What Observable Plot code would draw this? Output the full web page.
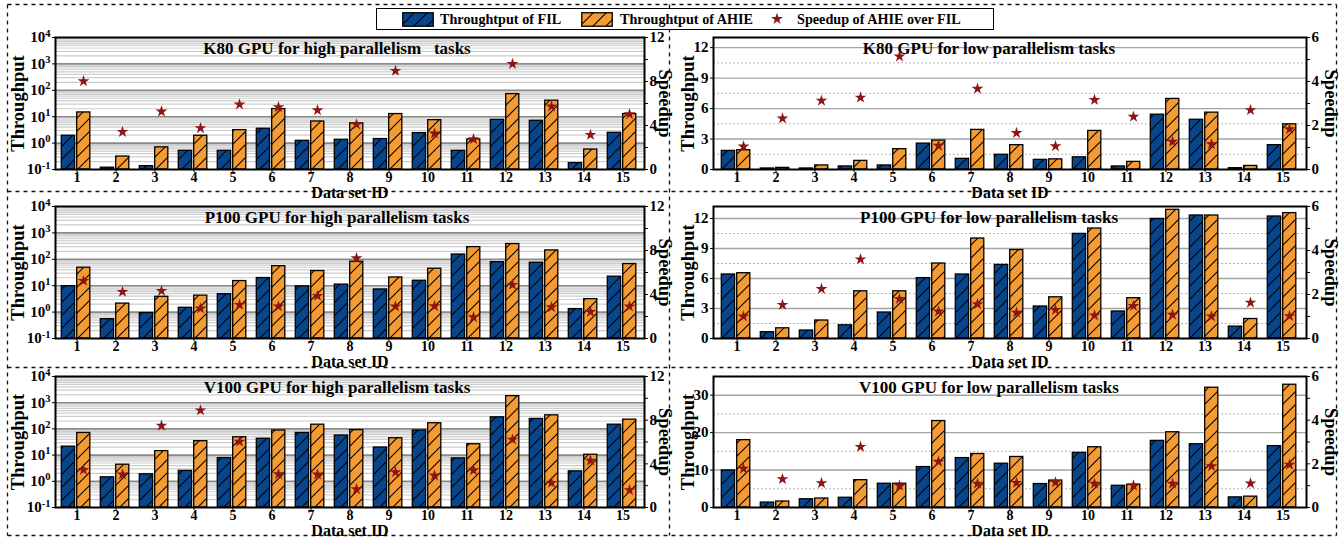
<!DOCTYPE html>
<html>
<head>
<meta charset="utf-8">
<script src="https://cdn.jsdelivr.net/npm/d3@7"></script>
<script src="https://cdn.jsdelivr.net/npm/@observablehq/plot@0.6"></script>
<style>
  html, body { margin: 0; padding: 0; background: #fff; overflow: hidden; }
  #root { position: relative; width: 1342px; height: 539px; overflow: hidden;
          font-family: "Liberation Serif", "Times New Roman", serif; font-weight: bold; color: #000; }
  .layer { position: absolute; }
  svg text { white-space: pre; }
  #legend { position: absolute; left: 376px; top: 8px; width: 616px; height: 20px;
            border: 1.3px solid #000; background: #fff; font-size: 14.2px; }
  #legend .it { position: absolute; top: 0; line-height: 20px; white-space: nowrap; }
  #legend svg { position: absolute; }
</style>
</head>
<body>
<div id="root"></div>
<script>
// ---------------- data ----------------
const datasetIds = [1, 2, 3, 4, 5, 6, 7, 8, 9, 10, 11, 12, 13, 14, 15];

const seriesNames = ["Throughtput of FIL", "Throughtput of AHIE", "Speedup of AHIE over FIL"];

// K80 GPU, high parallelism (log scale throughput)
const k80HighFil     = [1.9, 0.117, 0.134, 0.51, 0.51, 3.5, 1.22, 1.34, 1.42, 2.4, 0.51, 7.6, 7.0, 0.175, 2.46];
const k80HighAhie    = [14.5, 0.31, 0.69, 1.9, 3.1, 19.5, 6.6, 5.6, 12.6, 7.4, 1.38, 72, 40.5, 0.57, 12.6];
const k80HighSpeedup = [8.03, 3.42, 5.27, 3.76, 5.91, 5.67, 5.39, 4.09, 8.97, 3.27, 2.76, 9.6, 5.73, 3.15, 5.03];

// P100 GPU, high parallelism
const p100HighFil     = [9.6, 0.54, 0.92, 1.46, 4.8, 19.5, 9.4, 11, 7.2, 15.4, 152, 78, 74, 1.3, 22];
const p100HighAhie    = [48, 2.1, 3.8, 4.2, 15, 55, 36, 81, 20.5, 44, 290, 380, 217, 3.1, 66];
const p100HighSpeedup = [5.24, 4.24, 4.33, 2.73, 3.06, 2.91, 3.88, 7.3, 2.91, 2.94, 1.94, 4.88, 2.85, 2.42, 2.91];

// V100 GPU, high parallelism
const v100HighFil     = [21, 1.42, 1.85, 2.5, 7.7, 42, 70, 56, 19.5, 87, 7.5, 277, 240, 2.4, 145];
const v100HighAhie    = [70, 4.3, 14.2, 34, 48, 87, 145, 90, 44, 165, 26, 1780, 330, 10.3, 225];
const v100HighSpeedup = [3.44, 3.02, 7.5, 8.9, 6.04, 3.05, 3.02, 1.68, 3.23, 2.93, 3.41, 6.22, 2.26, 4.3, 1.59];

// K80 GPU, low parallelism
const k80LowFil     = [1.83, 0.1, 0.1, 0.3, 0.4, 2.55, 1.05, 1.45, 0.95, 1.2, 0.3, 5.4, 4.9, 0.13, 2.4];
const k80LowAhie    = [1.9, 0.16, 0.4, 0.85, 2.0, 2.85, 3.9, 2.4, 1.0, 3.8, 0.75, 6.95, 5.6, 0.35, 4.45];
const k80LowSpeedup = [1.05, 2.32, 3.13, 3.27, 5.14, 1.08, 3.67, 1.66, 1.06, 3.16, 2.4, 1.26, 1.15, 2.7, 1.83];

// P100 GPU, low parallelism
const p100LowFil     = [6.4, 0.63, 0.8, 1.32, 2.6, 6.04, 6.4, 7.36, 3.2, 10.46, 2.7, 11.95, 12.3, 1.19, 12.2];
const p100LowAhie    = [6.53, 1.02, 1.8, 4.72, 4.72, 7.5, 10.0, 8.85, 4.12, 11.0, 4.03, 12.87, 12.3, 1.95, 12.54];
const p100LowSpeedup = [1.0, 1.53, 2.25, 3.6, 1.8, 1.23, 1.56, 1.18, 1.3, 1.05, 1.48, 1.08, 1.0, 1.63, 1.02];

// V100 GPU, low parallelism
const v100LowFil     = [9.9, 1.32, 2.2, 2.6, 6.35, 10.8, 13.2, 11.7, 6.27, 14.6, 5.8, 17.8, 16.9, 2.7, 16.4];
const v100LowAhie    = [18.0, 1.6, 2.4, 7.3, 6.35, 23.1, 14.3, 13.5, 7.2, 16.1, 6.1, 20.1, 32.0, 2.9, 32.8];
const v100LowSpeedup = [1.78, 1.3, 1.12, 2.78, 1.0, 2.1, 1.09, 1.13, 1.15, 1.09, 1.01, 1.09, 1.89, 1.1, 1.96];

// tick values
const logTicks        = [0.1, 1, 10, 100, 1000, 10000];
const lowTicksSmall   = [0, 3, 6, 9, 12];
const lowTicksV100    = [0, 10, 20, 30];
const speedTicksHigh  = [0, 2, 4, 6, 8, 10, 12];
const speedTicksLow   = [0, 1, 2, 3, 4, 5, 6];

const titles = [
  "K80 GPU for high parallelism   tasks",
  "K80 GPU for low parallelism tasks",
  "P100 GPU for high parallelism tasks",
  "P100 GPU for low parallelism tasks",
  "V100 GPU for high parallelism tasks",
  "V100 GPU for low parallelism tasks"
];

// ---------------- styling ----------------
const FONT = '"Liberation Serif", "Times New Roman", serif';
const BLUE = "#07458c";
const ORANGE = "#f49b33";
const STAR = "#8e1515";

const root = document.getElementById("root");

// patterns
const defs = d3.select(root).append("svg")
  .attr("width", 0).attr("height", 0)
  .style("position", "absolute").style("left", 0).style("top", 0);
function hatch(id, color) {
  const p = defs.append("pattern").attr("id", id)
    .attr("patternUnits", "userSpaceOnUse").attr("width", 13).attr("height", 13);
  p.append("rect").attr("width", 13).attr("height", 13).attr("fill", color);
  p.append("path").attr("d", "M0,13 L13,0 M-3,3 L3,-3 M10,16 L16,10")
    .attr("stroke", "#000").attr("stroke-width", 1.1);
}
hatch("hFIL", BLUE);
hatch("hAHIE", ORANGE);

// dashed layout frame
const frame = d3.select(root).append("svg")
  .attr("class", "layer").attr("width", 1342).attr("height", 539)
  .style("left", 0).style("top", 0);
const dashLines = [
  [7.5, 4.5, 1336.5, 4.5], [7.5, 535.5, 1336.5, 535.5],
  [7.5, 4.5, 7.5, 535.5], [1336.5, 4.5, 1336.5, 535.5],
  [7.5, 191.5, 1336.5, 191.5], [7.5, 367.5, 1336.5, 367.5],
  [669.5, 4.5, 669.5, 535.5]
];
frame.selectAll("line").data(dashLines).join("line")
  .attr("x1", d => d[0]).attr("y1", d => d[1]).attr("x2", d => d[2]).attr("y2", d => d[3])
  .attr("stroke", "#111").attr("stroke-width", 1.3).attr("stroke-dasharray", "4,4");

function supFix(svg) {
  d3.select(svg).selectAll('g[aria-label="y-axis tick label"] text').each(function () {
    const m = /^10\^(-?\d+)$/.exec(this.textContent);
    if (m) {
      this.textContent = "10";
      d3.select(this).append("tspan").attr("dy", "-0.55em").attr("font-size", "10.5px").text(m[1]);
    }
  });
}

function makePanel(cfg) {
  const rows = datasetIds.map((id, i) => ({ id, fil: cfg.fil[i], ahie: cfg.ahie[i], speed: cfg.speed[i] }));
  const base = cfg.log ? 0.1 : 0;
  const margins = { width: cfg.width, height: cfg.height, marginTop: cfg.mt, marginBottom: cfg.mb,
                    marginLeft: cfg.ml, marginRight: cfg.mr };
  const style = { background: "none", fontFamily: FONT, fontWeight: "bold", fontSize: "15px", color: "#000", overflow: "visible" };

  let yScale, minorGrid, majorGrid, yTickFormat, minorStyle, majorStyle;
  if (cfg.log) {
    yScale = { type: "log", domain: [0.1, 10000] };
    minorGrid = [];
    for (let e = -1; e < 4; e++) for (let k = 2; k <= 9; k++) minorGrid.push(k * Math.pow(10, e));
    majorGrid = logTicks.slice(1, -1);
    yTickFormat = d => "10^" + Math.round(Math.log10(d));
    minorStyle = { stroke: "#cdcdcd", strokeWidth: 1.2 };
    majorStyle = { stroke: "#8a8a8a", strokeWidth: 1.6 };
  } else {
    yScale = { domain: cfg.yDomain };
    const t = cfg.yTicks;
    const step = t[1] - t[0];
    majorGrid = t.slice(1);
    minorGrid = t.map(v => v + step / 2).filter(v => v < cfg.yDomain[1]);
    yTickFormat = d => String(d);
    minorStyle = { stroke: "#b5b5b5", strokeWidth: 1, strokeDasharray: "2,2" };
    majorStyle = { stroke: "#a3a3a3", strokeWidth: 1.4 };
  }

  const wrap = d3.select(root).append("div").attr("class", "layer")
    .style("left", cfg.left + "px").style("top", cfg.top + "px")
    .style("width", cfg.width + "px").style("height", cfg.height + "px");

  const barsPlot = Plot.plot({
    ...margins, style,
    x: { type: "band", domain: datasetIds, padding: 0 },
    y: yScale,
    marks: [
      Plot.ruleY(minorGrid, minorStyle),
      Plot.ruleY(majorGrid, majorStyle),
      Plot.barY(rows, { x: "id", y1: () => base, y2: "fil", fill: "url(#hFIL)", stroke: "#000", strokeWidth: 1.3,
                        insetLeft: 4.3, insetRight: 21.4 }),
      Plot.barY(rows, { x: "id", y1: () => base, y2: "ahie", fill: "url(#hAHIE)", stroke: "#000", strokeWidth: 1.3,
                        insetLeft: 19.7, insetRight: 6.2 }),
      Plot.frame({ stroke: "#000", strokeWidth: 2 }),
      Plot.axisY({ ticks: cfg.log ? logTicks : cfg.yTicks, tickFormat: yTickFormat, tickSize: 3, tickPadding: 2,
                   label: null, fontSize: 15 }),
      Plot.axisX({ tickSize: 3, tickPadding: 0, label: null, fontSize: 14 }),
      Plot.text([cfg.title], { text: d => d, frameAnchor: "top", lineAnchor: "middle", textAnchor: "middle",
                               dy: 11, dx: cfg.titleDx, fontSize: 17, fontWeight: "bold" }),
      Plot.text(["Throughput"], { text: d => d, frameAnchor: "left", lineAnchor: "middle", textAnchor: "middle",
                                 dx: cfg.ylabDx, rotate: -90, fontSize: 18.5, fontWeight: "bold" }),
      Plot.text(["Data set ID"], { text: d => d, frameAnchor: "bottom", lineAnchor: "middle", textAnchor: "middle",
                                  dy: 23, fontSize: 16, fontWeight: "bold" })
    ]
  });
  barsPlot.style.position = "absolute"; barsPlot.style.left = "0px"; barsPlot.style.top = "0px";
  supFix(barsPlot);
  wrap.node().appendChild(barsPlot);

  const sTicks = cfg.log ? speedTicksHigh : speedTicksLow;
  const labelEvery = cfg.log ? 4 : 2;
  const starPlot = Plot.plot({
    ...margins, style,
    x: { type: "band", domain: datasetIds, padding: 0, axis: null },
    y: { domain: cfg.log ? [0, 12] : [0, 6] },
    marks: [
      Plot.dot(rows, { x: "id", y: "speed", symbol: "star", fill: STAR, r: 3.7, dx: 6.5 }),
      Plot.axisY({ anchor: "right", ticks: sTicks, tickFormat: d => (d % labelEvery === 0 ? String(d) : ""),
                   tickSize: 3, tickPadding: 2, label: null, fontSize: 15 }),
      Plot.text(["Speedup"], { text: d => d, frameAnchor: "right", lineAnchor: "middle", textAnchor: "middle",
                              dx: cfg.slabDx, rotate: 90, fontSize: 18.5, fontWeight: "bold" })
    ]
  });
  starPlot.style.position = "absolute"; starPlot.style.left = "0px"; starPlot.style.top = "0px";
  wrap.node().appendChild(starPlot);
}

const leftCol = { left: 0, width: 670, ml: 55, mr: 26, titleDx: -13, ylabDx: -37, slabDx: 20 };
const rightCol = { left: 670, width: 672, ml: 43, mr: 36, titleDx: -21, ylabDx: -25, slabDx: 24 };
const row1 = { top: 0, height: 195, mt: 37, mb: 26 };
const row2 = { top: 195, height: 172, mt: 11, mb: 29 };
const row3 = { top: 367, height: 172, mt: 9, mb: 32 };

makePanel({ ...leftCol, ...row1, log: true, title: titles[0], fil: k80HighFil, ahie: k80HighAhie, speed: k80HighSpeedup });
makePanel({ ...rightCol, ...row1, log: false, yDomain: [0, 13], yTicks: lowTicksSmall, title: titles[1],
            fil: k80LowFil, ahie: k80LowAhie, speed: k80LowSpeedup });
makePanel({ ...leftCol, ...row2, log: true, title: titles[2], fil: p100HighFil, ahie: p100HighAhie, speed: p100HighSpeedup });
makePanel({ ...rightCol, ...row2, log: false, yDomain: [0, 13.2], yTicks: lowTicksSmall, title: titles[3],
            fil: p100LowFil, ahie: p100LowAhie, speed: p100LowSpeedup });
makePanel({ ...leftCol, ...row3, log: true, title: titles[4], fil: v100HighFil, ahie: v100HighAhie, speed: v100HighSpeedup });
makePanel({ ...rightCol, ...row3, log: false, yDomain: [0, 35], yTicks: lowTicksV100, title: titles[5],
            fil: v100LowFil, ahie: v100LowAhie, speed: v100LowSpeedup });

// ---------------- legend ----------------
const legend = d3.select(root).append("div").attr("id", "legend");
function swatch(x, pat) {
  const s = legend.append("svg").attr("width", 32).attr("height", 15).style("left", x + "px").style("top", "3px");
  s.append("rect").attr("x", 0.75).attr("y", 0.75).attr("width", 30.5).attr("height", 13.5)
    .attr("fill", `url(#${pat})`).attr("stroke", "#000").attr("stroke-width", 1.3);
}
swatch(25, "hFIL");
legend.append("div").attr("class", "it").style("left", "63px").text(seriesNames[0]);
swatch(204, "hAHIE");
legend.append("div").attr("class", "it").style("left", "243px").text(seriesNames[1]);
const st = legend.append("svg").attr("width", 18).attr("height", 18).style("left", "391px").style("top", "1px");
st.append("path").attr("transform", "translate(9,9)")
  .attr("d", d3.symbol(d3.symbolStar, Math.PI * 3.7 * 3.7)()).attr("fill", STAR);
legend.append("div").attr("class", "it").style("left", "420px").text(seriesNames[2]);
</script>
</body>
</html>
